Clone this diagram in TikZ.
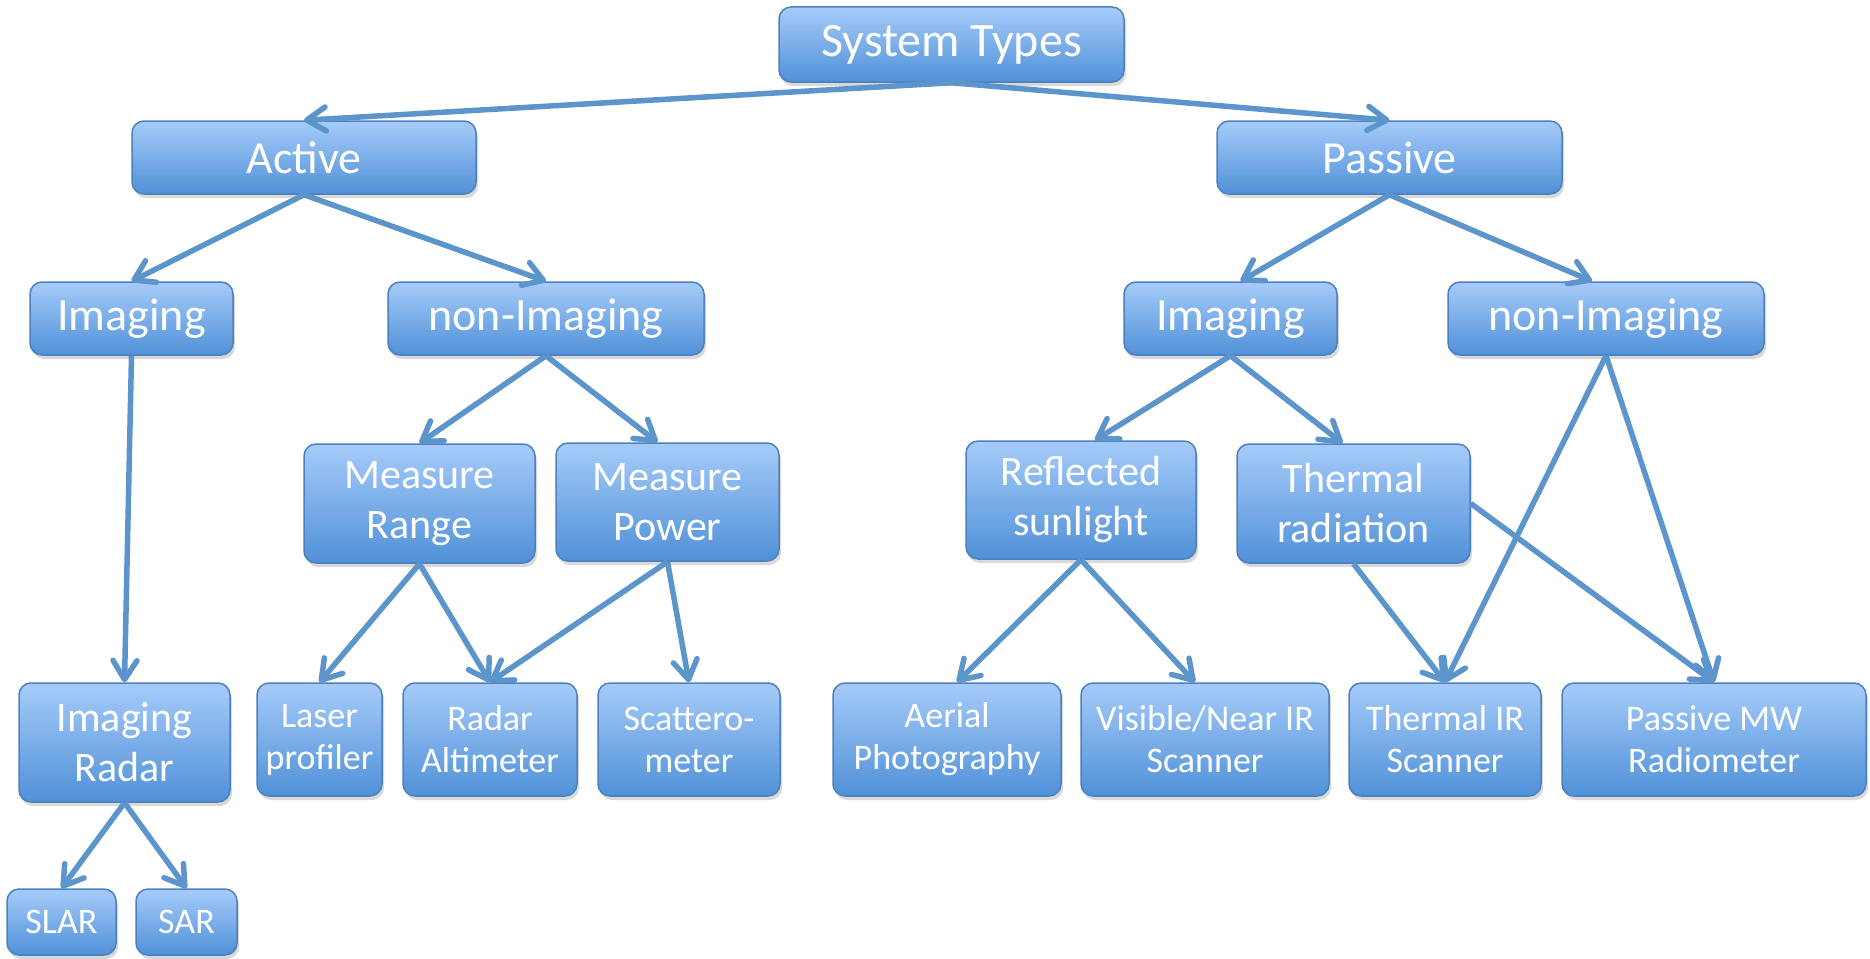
\documentclass[tikz,border=0pt]{standalone}
\usepackage{fontspec}
\setmainfont{Carlito}
\usetikzlibrary{arrows.meta,shadows,calc}
\definecolor{boxtop}{RGB}{166,203,249}
\definecolor{boxbot}{RGB}{80,145,216}
\definecolor{boxline}{RGB}{76,128,190}
\definecolor{arrowcol}{RGB}{92,148,204}
\tikzset{
  box/.style={rounded corners=12pt, draw=boxline, line width=1.5pt,
    top color=boxtop, bottom color=boxbot, text=white, align=center,
    inner sep=0pt, anchor=center,
    drop shadow={shadow xshift=2pt, shadow yshift=-4pt, opacity=0.25, fill=black!60}},
  fbig/.style={font=\fontsize{48}{56}\selectfont},
  fone/.style={font=\fontsize{46}{54}\selectfont},
  ftwo/.style={font=\fontsize{42}{50}\selectfont},
  fthree/.style={font=\fontsize{36}{42}\selectfont},
  conn/.style={draw=arrowcol, line width=5.5pt, -{Straight Barb[length=19pt,width=24pt,round]}}
}
\begin{document}
\begin{tikzpicture}[x=1pt,y=-1pt]
\useasboundingbox (0,0) rectangle (1870,958);
% level 0
\node[box,fbig,minimum width=345pt,minimum height=75pt] (sys) at (951.5,44.5) {System Types};
% level 1
\node[box,fone,minimum width=344pt,minimum height=73pt] (act) at (304,157.5) {Active};
\node[box,fone,minimum width=345pt,minimum height=73pt] (pas) at (1389.5,157.5) {Passive};
% level 2
\node[box,fone,minimum width=203pt,minimum height=73pt] (aim) at (131.5,318.5) {Imaging};
\node[box,fone,minimum width=316pt,minimum height=73pt] (ani) at (546,318.5) {non-Imaging};
\node[box,fone,minimum width=213pt,minimum height=73pt] (pim) at (1230.5,318.5) {Imaging};
\node[box,fone,minimum width=316pt,minimum height=73pt] (pni) at (1606,318.5) {non-Imaging};
% level 3
\node[box,ftwo,minimum width=231pt,minimum height=119pt] (mr) at (419.5,503.5) {Measure\\Range};
\node[box,ftwo,minimum width=223pt,minimum height=118pt] (mp) at (667.5,502) {Measure\\Power};
\node[box,ftwo,minimum width=230pt,minimum height=118pt] (rs) at (1081,500) {Reflected\\sunlight};
\node[box,ftwo,minimum width=233pt,minimum height=119pt] (tr) at (1353.5,503.5) {Thermal\\radiation};
% level 4
\node[box,ftwo,minimum width=211pt,minimum height=119pt] (ir) at (124.5,742.5) {Imaging\\Radar};
\node[box,fthree,minimum width=125pt,minimum height=113pt] (lp) at (319.5,739.5) {Laser\\profiler};
\node[box,fthree,minimum width=174pt,minimum height=113pt] (ra) at (490,739.5) {Radar\\Altimeter};
\node[box,fthree,minimum width=182pt,minimum height=113pt] (sc) at (689,739.5) {Scattero-\\meter};
\node[box,fthree,minimum width=228pt,minimum height=113pt] (ap) at (947,739.5) {Aerial\\Photography};
\node[box,fthree,minimum width=248pt,minimum height=113pt] (vn) at (1205,739.5) {Visible/Near IR\\Scanner};
\node[box,fthree,minimum width=192pt,minimum height=113pt] (ti) at (1445,739.5) {Thermal IR\\Scanner};
\node[box,fthree,minimum width=304pt,minimum height=113pt] (pm) at (1714,739.5) {Passive MW\\Radiometer};
% level 5
\node[box,fthree,minimum width=109pt,minimum height=66pt] (slar) at (61.5,922) {SLAR};
\node[box,fthree,minimum width=101pt,minimum height=66pt] (sar) at (186.5,922) {SAR};
% connectors
\draw[conn] (sys.south) -- (act.north);
\draw[conn] (sys.south) -- (pas.north);
\draw[conn] (act.south) -- (aim.north);
\draw[conn] (act.south) -- (ani.north);
\draw[conn] (aim.south) -- (ir.north);
\draw[conn] (ani.south) -- (mr.north);
\draw[conn] (ani.south) -- ($(mp.north)+(-10,0)$);
\draw[conn] (mr.south) -- (lp.north);
\draw[conn] (mr.south) -- (ra.north);
\draw[conn] (mp.south) -- (ra.north);
\draw[conn] (mp.south) -- (sc.north);
\draw[conn] (ir.south) -- (slar.north);
\draw[conn] (ir.south) -- (sar.north);
\draw[conn] (pas.south) -- ($(pim.north)+(10,0)$);
\draw[conn] (pas.south) -- ($(pni.north)+(-14,0)$);
\draw[conn] (pim.south) -- ($(rs.north)+(14,0)$);
\draw[conn] (pim.south) -- ($(tr.north)+(-11,0)$);
\draw[conn] (pni.south) -- (ti.north);
\draw[conn] (pni.south) -- (pm.north);
\draw[conn] (rs.south) -- ($(ap.north)+(10,0)$);
\draw[conn] (rs.south) -- ($(vn.north)+(-10,0)$);
\draw[conn] (tr.south) -- (ti.north);
\draw[conn] (tr.east) -- (pm.north);
\end{tikzpicture}
\end{document}
